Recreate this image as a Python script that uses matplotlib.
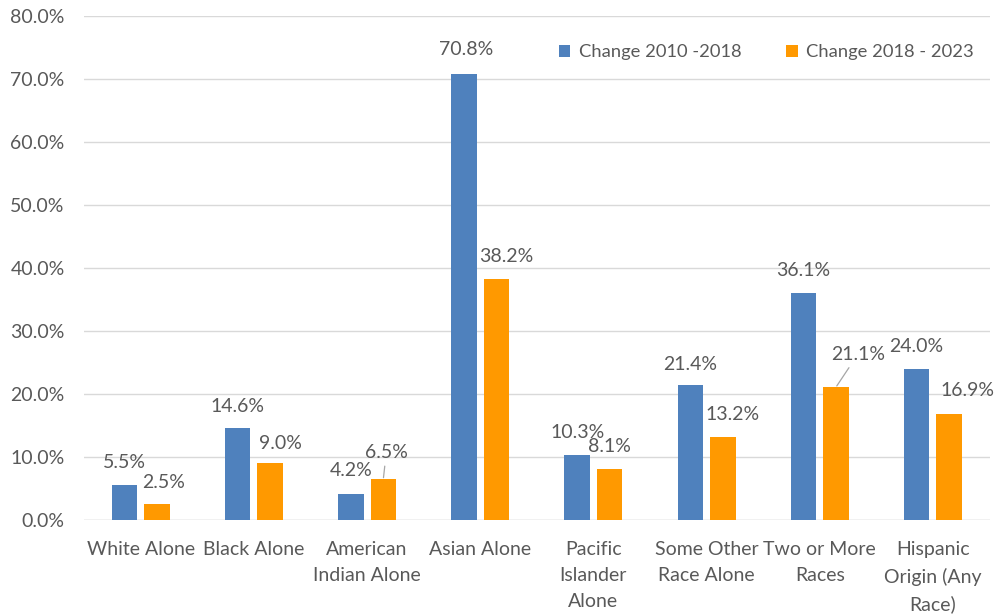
import numpy as np
import matplotlib.pyplot as plt

plt.rcParams['font.family'] = ['Lato', 'DejaVu Sans']

# data
categories = ['White Alone', 'Black Alone', 'American\nIndian Alone', 'Asian Alone',
              'Pacific\nIslander\nAlone', 'Some Other\nRace Alone', 'Two or More\nRaces',
              'Hispanic\nOrigin (Any\nRace)']
chg_2010_2018 = [5.5, 14.6, 4.2, 70.8, 10.3, 21.4, 36.1, 24.0]
chg_2018_2023 = [2.5, 9.0, 6.5, 38.2, 8.1, 13.2, 21.1, 16.9]
series_names = ['Change 2010 -2018', 'Change 2018 - 2023']

# label nudges in pixels (dx, dy above bar top), as placed on the original
nudge_blue = [(0, 23), (0, 22), (0, 23), (2, 24), (0, 23), (0, 21), (0, 22), (0, 22)]
nudge_orange = [(7, 22), (10, 20), (3, 27), (10, 23), (0, 23), (10, 22), (22, 33), (18, 23)]
leader = [False, False, True, False, False, False, True, False]

blue = '#4f81bd'
orange = '#ff9900'
txt = '#595959'
fs = 14

fig = plt.figure(figsize=(9.96, 6.14), dpi=100)
ax = fig.add_axes([0.0845, 0.153, 0.909, 0.821])

x = np.arange(len(categories))
w = 0.225
off = 0.1435
ax.bar(x - off, chg_2010_2018, w, color=blue, label=series_names[0], zorder=3)
ax.bar(x + off, chg_2018_2023, w, color=orange, label=series_names[1], zorder=3)

px = 0.72  # points per pixel at 100 dpi
for i in range(len(x)):
    dx, dy = nudge_blue[i]
    ax.annotate(f'{chg_2010_2018[i]:.1f}%', (x[i] - off, chg_2010_2018[i]),
                xytext=(dx * px, dy * px), textcoords='offset points',
                ha='center', va='center', fontsize=fs, color=txt)
    dx, dy = nudge_orange[i]
    arrow = None
    if leader[i]:
        arrow = dict(arrowstyle='-', color='#a6a6a6', lw=0.9, shrinkA=2, shrinkB=1)
    ax.annotate(f'{chg_2018_2023[i]:.1f}%', (x[i] + off, chg_2018_2023[i]),
                xytext=(dx * px, dy * px), textcoords='offset points',
                ha='center', va='center', fontsize=fs, color=txt, arrowprops=arrow)

ax.set_xlim(-0.5, len(x) - 0.5)
ax.set_ylim(0, 80)
ax.set_yticks(np.arange(0, 81, 10))
ax.set_yticklabels([f'{v:.1f}%' for v in np.arange(0, 81, 10)])
ax.set_xticks(x)
ax.set_xticklabels(categories, linespacing=1.65, va='top')
ax.tick_params(axis='both', length=0, labelsize=fs, labelcolor=txt)
ax.tick_params(axis='y', pad=14)
ax.tick_params(axis='x', pad=15)
ax.grid(axis='y', color='#d9d9d9', lw=1, zorder=0)
for s in ax.spines.values():
    s.set_visible(False)
ax.axhline(0, color='#d9d9d9', lw=1, zorder=2)

ax.legend(loc='center left', bbox_to_anchor=(0.561, 0.915), bbox_transform=fig.transFigure,
          ncol=2, frameon=False, fontsize=13.2, labelcolor=txt, handlelength=0.64,
          handleheight=0.64, handletextpad=0.45, columnspacing=2.45, borderpad=0,
          borderaxespad=0)

plt.savefig('out.png', dpi=100)
